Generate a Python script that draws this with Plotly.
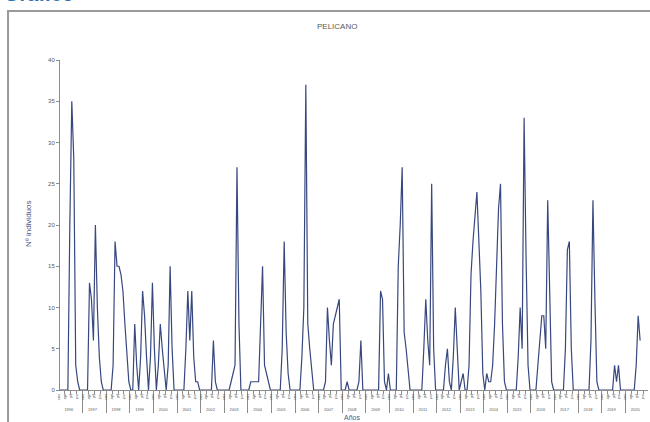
import plotly.graph_objects as go

years = [str(y) for y in range(1996, 2021)]
months = ["ene", "feb", "mar", "abr", "may", "jun", "jul", "ago", "sep", "oct", "nov", "dic"]

# Nº individuos por mes (una fila por año)
individuos = [
    0, 0, 0, 0, 0, 20, 35, 28, 3, 1, 0, 0,      # 1996
    0, 0, 0, 13, 11, 6, 20, 10, 4, 1, 0, 0,     # 1997
    0, 0, 0, 3, 18, 15, 15, 14, 12, 8, 4, 1,    # 1998
    0, 0, 8, 3, 0, 4, 12, 9, 4, 0, 4, 13,       # 1999
    5, 0, 3, 8, 5, 2, 0, 3, 15, 5, 0, 0,        # 2000
    0, 0, 0, 0, 5, 12, 6, 12, 4, 1, 1, 0,       # 2001
    0, 0, 0, 0, 0, 0, 6, 1, 0, 0, 0, 0,         # 2002
    0, 0, 0, 1, 2, 3, 27, 8, 0, 0, 0, 0,        # 2003
    0, 1, 1, 1, 1, 1, 8, 15, 3, 2, 1, 0,        # 2004
    0, 0, 0, 0, 0, 5, 18, 7, 2, 0, 0, 0,        # 2005
    0, 0, 0, 4, 10, 37, 8, 5, 2, 0, 0, 0,       # 2006
    0, 0, 0, 1, 10, 6, 3, 8, 9, 10, 11, 0,      # 2007
    0, 0, 1, 0, 0, 0, 0, 0, 1, 6, 0, 0,         # 2008
    0, 0, 0, 0, 0, 0, 0, 12, 11, 1, 0, 2,       # 2009
    0, 0, 0, 0, 15, 20, 27, 7, 5, 2, 0, 0,      # 2010
    0, 0, 0, 0, 0, 5, 11, 6, 3, 25, 5, 0,       # 2011
    0, 0, 0, 0, 3, 5, 1, 0, 4, 10, 5, 0,        # 2012
    1, 2, 0, 0, 3, 14, 18, 21, 24, 18, 12, 2,   # 2013
    0, 2, 1, 1, 3, 8, 15, 22, 25, 8, 1, 0,      # 2014
    0, 0, 0, 0, 0, 4, 10, 5, 33, 16, 3, 0,      # 2015
    0, 0, 0, 3, 6, 9, 9, 5, 23, 11, 1, 0,       # 2016
    0, 0, 0, 0, 0, 5, 17, 18, 5, 0, 0, 0,       # 2017
    0, 0, 0, 0, 0, 0, 6, 23, 11, 1, 0, 0,       # 2018
    0, 0, 0, 0, 0, 0, 3, 1, 3, 0, 0, 0,         # 2019
    0, 0, 0, 0, 0, 3, 9, 6, None, None, None, None,  # 2020
]

y_ticks = [0, 5, 10, 15, 20, 25, 30, 35, 40]

x_outer = [y for y in years for _ in months]
x_inner = [m for _ in years for m in months]

fig = go.Figure()
fig.add_trace(go.Scatter(
    x=[x_outer, x_inner],
    y=individuos,
    mode="lines",
    line=dict(color="#37477f", width=1.2),
    showlegend=False,
    hoverinfo="skip",
))

axis_gray = "#8c8c8c"
text_gray = "#5a5a5a"

fig.update_layout(
    width=650, height=422,
    margin=dict(l=60, r=2, t=60, b=32),
    paper_bgcolor="white",
    plot_bgcolor="white",
    font=dict(family="Liberation Sans, Arial, sans-serif", color=text_gray),
    xaxis=dict(
        type="multicategory",
        showline=True, linecolor=axis_gray, linewidth=1,
        showgrid=False, zeroline=False,
        ticks="outside", ticklen=3, tickcolor=axis_gray,
        tickfont=dict(size=4, color=text_gray),
        showdividers=True, dividercolor=axis_gray, dividerwidth=1,
    ),
    yaxis=dict(
        range=[0, 40],
        tickvals=y_ticks,
        showline=True, linecolor=axis_gray, linewidth=1,
        showgrid=False, zeroline=False,
        ticks="outside", ticklen=3, tickcolor=axis_gray,
        tickfont=dict(size=6, color=text_gray),
    ),
    shapes=[
        dict(type="rect", xref="paper", yref="paper",
             x0=-0.0884, x1=1.05, y0=-0.3, y1=1.1485,
             line=dict(color="#9a9a9a", width=2), fillcolor="rgba(0,0,0,0)",
             layer="below"),
    ],
    annotations=[
        dict(text="PELICANO", xref="paper", yref="paper", x=0.471, y=1.1,
             showarrow=False, font=dict(size=8, color=text_gray),
             xanchor="center", yanchor="middle"),
        dict(text="Nº individuos", xref="paper", yref="paper", x=-0.0544, y=0.503,
             showarrow=False, textangle=-90, font=dict(size=8, color="#4a5588"),
             xanchor="center", yanchor="middle"),
        dict(text="Años", xref="paper", yref="paper", x=0.497, y=-0.082,
             showarrow=False, font=dict(size=7, color="#4a5588"),
             xanchor="center", yanchor="middle"),
        dict(text="<b>Gráfico</b>", xref="paper", yref="paper", x=-0.0986, y=1.199,
             showarrow=False, font=dict(size=20, color="#2e74b5"),
             xanchor="left", yanchor="middle"),
    ],
)

fig.write_html("out.html", config={"displayModeBar": False},
               post_script="document.body.style.margin='0';")
